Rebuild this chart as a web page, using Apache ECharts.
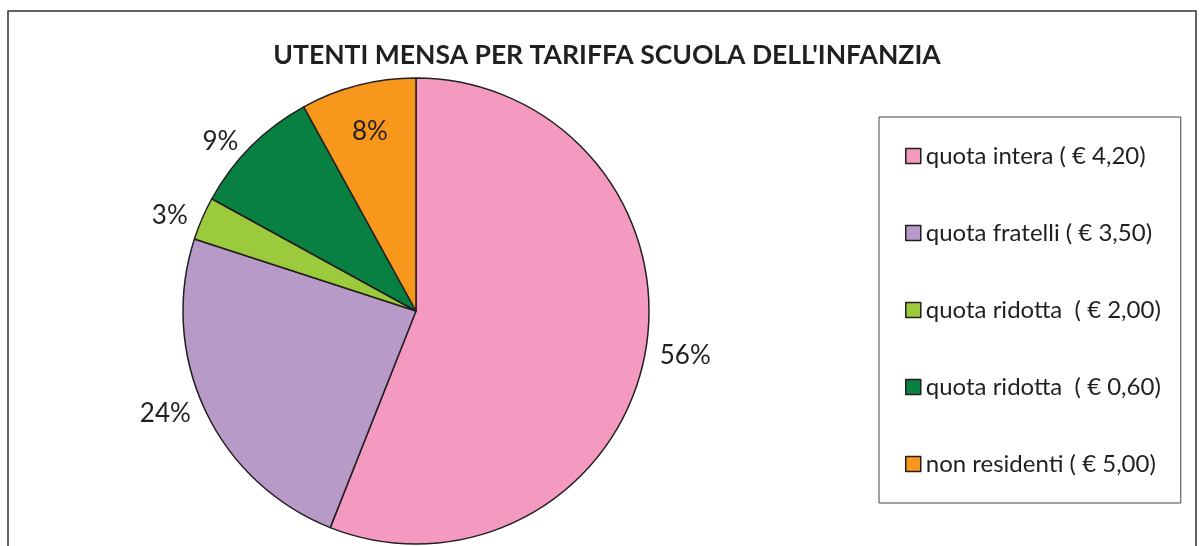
<!DOCTYPE html>
<html>
<head>
<meta charset="utf-8">
<script src="https://cdn.jsdelivr.net/npm/echarts@6/dist/echarts.min.js"></script>
<style>
  html, body { margin: 0; padding: 0; background: #fff; }
  #chart { width: 1200px; height: 546px; }
</style>
</head>
<body>
<div id="chart"></div>
<script>
  // dati
  const categories = [
    'quota intera ( € 4,20)',
    'quota fratelli ( € 3,50)',
    'quota ridotta  ( € 2,00)',
    'quota ridotta  ( € 0,60)',
    'non residenti ( € 5,00)'
  ];
  const values = [56, 24, 3, 9, 8];
  const colors = ['#F49AC1', '#B79AC8', '#9BCB3C', '#078041', '#F7981D'];
  // the one label Excel put inside its slice
  const insideLabel = 'non residenti ( € 5,00)';

  const chart = echarts.init(document.getElementById('chart'));
  const textColor = '#231F20';
  const font = 'Lato';

  const option = {
    animation: false,
    color: colors,
    title: {
      text: "UTENTI MENSA PER TARIFFA SCUOLA DELL'INFANZIA",
      left: 602,
      textAlign: 'center',
      top: 37,
      textStyle: { fontFamily: font, fontSize: 26.5, fontWeight: 'bold', color: textColor }
    },
    graphic: [{
      type: 'rect',
      shape: { x: 8, y: 11, width: 1188, height: 560 },
      style: { fill: 'none', stroke: '#333', lineWidth: 1.5 },
      z: -1
    }],
    legend: {
      orient: 'vertical',
      left: 879,
      top: 117,
      padding: [27, 20, 27, 26],
      itemWidth: 15,
      itemHeight: 15,
      itemGap: 53,
      borderColor: '#444',
      borderWidth: 1,
      icon: 'rect',
      data: categories,
      itemStyle: { borderColor: textColor, borderWidth: 1.5 },
      textStyle: { fontFamily: font, fontSize: 24, lineHeight: 24, color: textColor }
    },
    series: [
      {
        type: 'pie',
        center: [416, 311],
        radius: 233,
        startAngle: 90,
        clockwise: true,
        itemStyle: { borderColor: textColor, borderWidth: 1.5 },
        label: {
          show: true,
          position: 'outside',
          formatter: '{d}%',
          fontFamily: font,
          fontSize: 26,
          color: textColor
        },
        labelLine: { show: false, length: 7, length2: 3 },
        emphasis: { disabled: true },
        data: categories.map((name, i) => ({
          name: name,
          value: values[i],
          label: { show: name !== insideLabel }
        }))
      },
      {
        // transparent ring only to place the inside label further out
        type: 'pie',
        center: [416, 311],
        radius: [131, 233],
        startAngle: 90,
        clockwise: true,
        silent: true,
        z: 3,
        itemStyle: { color: 'rgba(0,0,0,0)', borderWidth: 0 },
        label: {
          show: true,
          position: 'inside',
          formatter: '{d}%',
          fontFamily: font,
          fontSize: 26,
          color: textColor
        },
        labelLine: { show: false },
        emphasis: { disabled: true },
        data: categories.map((name, i) => ({
          name: name,
          value: values[i],
          label: { show: name === insideLabel }
        }))
      }
    ]
  };

  chart.setOption(option);
</script>
</body>
</html>
